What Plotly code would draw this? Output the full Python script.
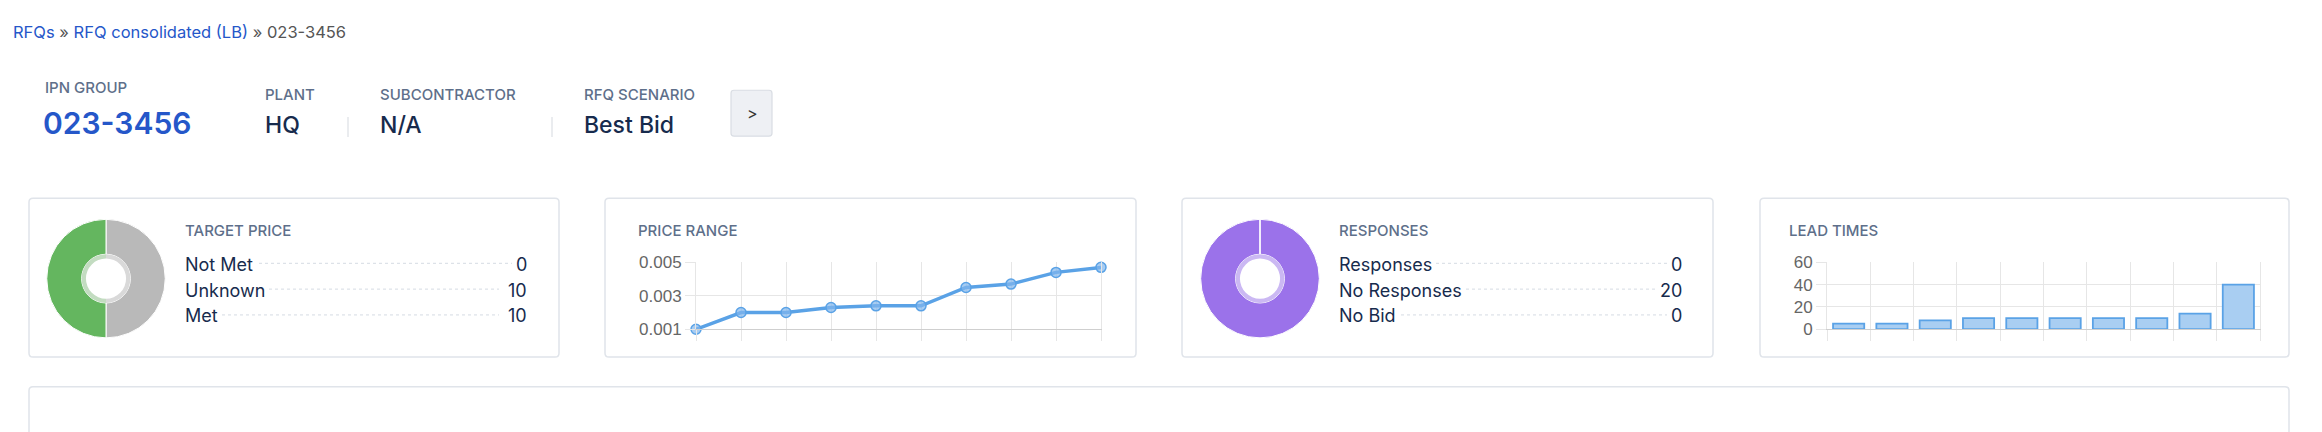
import plotly.graph_objects as go

W, H = 2322, 432

# ---------------- data ----------------
breadcrumb = ["RFQs", "RFQ consolidated (LB)", "023-3456"]
header_labels = ["IPN GROUP", "PLANT", "SUBCONTRACTOR", "RFQ SCENARIO"]
header_values = ["023-3456", "HQ", "N/A", "Best Bid"]

target_labels = ["Not Met", "Unknown", "Met"]
target_values = [0, 10, 10]

response_labels = ["Responses", "No Responses", "No Bid"]
response_values = [0, 20, 0]

price_categories = ["1", "2", "3", "4", "5", "6", "7", "8", "9", "10"]
price_values = [0.001, 0.002, 0.002, 0.0023, 0.0024, 0.0024, 0.0035, 0.0037, 0.0044, 0.0047]
price_ticks = [0.001, 0.003, 0.005]
price_ticktext = ["0.001", "0.003", "0.005"]

lead_categories = ["1", "2", "3", "4", "5", "6", "7", "8", "9", "10"]
lead_values = [5, 5, 8, 10, 10, 10, 10, 10, 14, 40]
lead_ticks = [0, 20, 40, 60]

# ---------------- styles ----------------
UI = "Inter, 'Noto Sans', sans-serif"
CHART_FONT = "'Liberation Sans', Arial, sans-serif"
NAVY = "#172b4d"
SLATE = "#5e6f8a"
LINK = "#2557c9"
BORDER = "#e0e4ea"
GRID = "#e6e6e6"
BLUE = "#5aa2e6"


def px(x):
    return x / W


def py(y):
    return 1 - y / H


def rrect_path(x0, y0, x1, y1, r):
    X = lambda v: px(v)
    Y = lambda v: py(v)
    return (
        f"M {X(x0 + r)},{Y(y0)} L {X(x1 - r)},{Y(y0)} Q {X(x1)},{Y(y0)} {X(x1)},{Y(y0 + r)} "
        f"L {X(x1)},{Y(y1 - r)} Q {X(x1)},{Y(y1)} {X(x1 - r)},{Y(y1)} "
        f"L {X(x0 + r)},{Y(y1)} Q {X(x0)},{Y(y1)} {X(x0)},{Y(y1 - r)} "
        f"L {X(x0)},{Y(y0 + r)} Q {X(x0)},{Y(y0)} {X(x0 + r)},{Y(y0)} Z"
    )


fig = go.Figure()
shapes = []
annotations = []


def text(t, x, y, size, color, weight=400, anchor="left", family=UI):
    annotations.append(dict(
        text=t, x=px(x), y=py(y), xref="paper", yref="paper",
        xanchor=anchor, yanchor="middle", showarrow=False,
        font=dict(family=family, size=size, color=color, weight=weight),
    ))


# ---------------- breadcrumb ----------------
annotations.append(dict(
    text=(f"<span style='color:{LINK}'>{breadcrumb[0]}</span> » "
          f"<span style='color:{LINK}'>{breadcrumb[1]}</span> » {breadcrumb[2]}"),
    x=px(11), y=py(24), xref="paper", yref="paper", xanchor="left", yanchor="middle",
    showarrow=False, font=dict(family=UI, size=16.5, color="#555555"),
))

# ---------------- header ----------------
hx = [43, 263, 378, 582]
text(header_labels[0], hx[0], 82, 15, SLATE, 500)
text(header_values[0], 41, 119, 30, LINK, 600)
for i in range(1, 4):
    text(header_labels[i], hx[i], 89, 15, SLATE, 500)
    text(header_values[i], hx[i], 121, 23, NAVY, 500)

for sx in (348, 552):
    shapes.append(dict(type="line", xref="paper", yref="paper",
                       x0=px(sx), x1=px(sx), y0=py(113), y1=py(134),
                       line=dict(color="#e3e6ea", width=1.5)))

# button
shapes.append(dict(type="path", xref="paper", yref="paper",
                   path=rrect_path(731, 85, 772, 133, 3),
                   fillcolor="#eef0f4", line=dict(color="#d9dde3", width=1.2)))
text(">", 752, 109, 16, "#333333", 400, anchor="center")

# ---------------- cards ----------------
cards = [(29, 559), (605, 1136), (1182, 1713), (1760, 2289)]
for (c0, c1) in cards:
    shapes.append(dict(type="path", xref="paper", yref="paper",
                       path=rrect_path(c0, 198, c1, 364, 4),
                       fillcolor="rgba(0,0,0,0)", line=dict(color=BORDER, width=1.5), layer="below"))
# bottom card
shapes.append(dict(type="path", xref="paper", yref="paper",
                   path=rrect_path(29, 395, 2289, 460, 4),
                   fillcolor="rgba(0,0,0,0)", line=dict(color=BORDER, width=1.5), layer="below"))

# ---------------- donut helper ----------------
def donut(cx, cy, labels, values, colors, ring_colors, name):
    R, r_ring, r_in = 62, 25.5, 21
    fig.add_trace(go.Pie(
        labels=labels, values=values, sort=False, direction="clockwise", rotation=0,
        hole=r_ring / R, textinfo="none", hoverinfo="label+value", showlegend=False,
        marker=dict(colors=colors, line=dict(color="white", width=1)),
        domain=dict(x=[px(cx - R), px(cx + R)], y=[py(cy + R), py(cy - R)]), name=name,
    ))
    fig.add_trace(go.Pie(
        labels=labels, values=values, sort=False, direction="clockwise", rotation=0,
        hole=r_in / r_ring, textinfo="none", hoverinfo="skip", showlegend=False,
        marker=dict(colors=ring_colors, line=dict(color="rgba(255,255,255,0)", width=0)),
        domain=dict(x=[px(cx - r_ring), px(cx + r_ring)], y=[py(cy + r_ring), py(cy - r_ring)]),
    ))


def legend_list(title, x0, xr, labels, values, label_w, value_w):
    text(title, x0, 232, 15, SLATE, 500)
    ys = [267, 294, 321]
    for lab, val, y, lw, vw in zip(labels, values, ys, label_w, value_w):
        text(lab, x0, y, 18, NAVY, 400)
        text(str(val), xr, y, 18, NAVY, 400, anchor="right")
        shapes.append(dict(type="line", xref="paper", yref="paper",
                           x0=px(x0 + lw + 8), x1=px(xr - vw - 7), y0=py(y - 1), y1=py(y - 1),
                           line=dict(color="#d5dbe3", width=1, dash="dot")))


# card 1: target price
donut(106, 282, target_labels, target_values,
      ["#e46a6a", "#b9b9b9", "#64b65f"], ["#f0b5b5", "#d9d9d9", "#c3dcc1"], "Target Price")
legend_list("TARGET PRICE", 183, 529, target_labels, target_values, [68, 78, 31], [10, 23, 23])

# card 3: responses
donut(1260, 282, response_labels, response_values,
      ["#5aa2e6", "#9b72ea", "#b9b9b9"], ["#b9d6f3", "#cbb8f3", "#d9d9d9"], "Responses")
shapes.append(dict(type="line", xref="paper", yref="paper",
                   x0=px(1260), x1=px(1260), y0=py(282 - 25.5), y1=py(282 - 62),
                   line=dict(color="rgba(255,255,255,0.8)", width=1.2)))
legend_list("RESPONSES", 1337, 1684, response_labels, response_values, [91, 121, 56], [10, 20, 10])

# card 2: price range
text("PRICE RANGE", 636, 232, 15, SLATE, 500)
fig.add_trace(go.Scatter(
    x=price_categories, y=price_values, mode="lines+markers", cliponaxis=False,
    line=dict(color=BLUE, width=3.5),
    marker=dict(size=10, color="rgba(130,182,236,0.7)", line=dict(color=BLUE, width=1.5)),
    xaxis="x", yaxis="y", showlegend=False, name="Price",
))

# card 4: lead times
text("LEAD TIMES", 1787, 232, 15, SLATE, 500)
fig.add_trace(go.Bar(
    x=lead_categories, y=lead_values,
    marker=dict(color="#a9cef2", line=dict(color=BLUE, width=1.8)),
    xaxis="x2", yaxis="y2", showlegend=False, name="Lead time",
))

axis_common = dict(showgrid=True, gridcolor=GRID, gridwidth=1, zeroline=False,
                   ticks="outside", tickcolor=GRID, tickwidth=1, fixedrange=True)

fig.update_layout(
    width=W, height=H, margin=dict(l=0, r=0, t=0, b=0),
    paper_bgcolor="white", plot_bgcolor="rgba(0,0,0,0)",
    shapes=shapes, annotations=annotations, bargap=0.28,
    xaxis=dict(domain=[px(696), px(1101)], type="category", range=[0, 9],
               showticklabels=False, ticklen=11, showline=True, linecolor="#cfcfcf",
               linewidth=1, anchor="y", **axis_common),
    yaxis=dict(domain=[py(335), py(265)], range=[0.001, 0.005], tickvals=price_ticks,
               ticktext=price_ticktext, ticklen=10, anchor="x",
               showline=True, mirror=True, linecolor=GRID, linewidth=1,
               tickfont=dict(family=CHART_FONT, size=17, color="#666666"), **axis_common),
    xaxis2=dict(domain=[px(1827), px(2260)], type="category", range=[-0.5, 9.5],
                tickson="boundaries", showticklabels=False, ticklen=11, showline=True,
                linecolor="#cfcfcf", linewidth=1, anchor="y2", **axis_common),
    yaxis2=dict(domain=[py(335), py(265)], range=[0, 60], tickvals=lead_ticks, ticklen=10,
                anchor="x2", showline=True, mirror=True, linecolor=GRID, linewidth=1,
                tickfont=dict(family=CHART_FONT, size=17, color="#666666"),
                **axis_common),
)

fig.write_html("out.html", config={"displayModeBar": False},
               post_script="document.body.style.margin='0';document.body.style.overflow='hidden';")
